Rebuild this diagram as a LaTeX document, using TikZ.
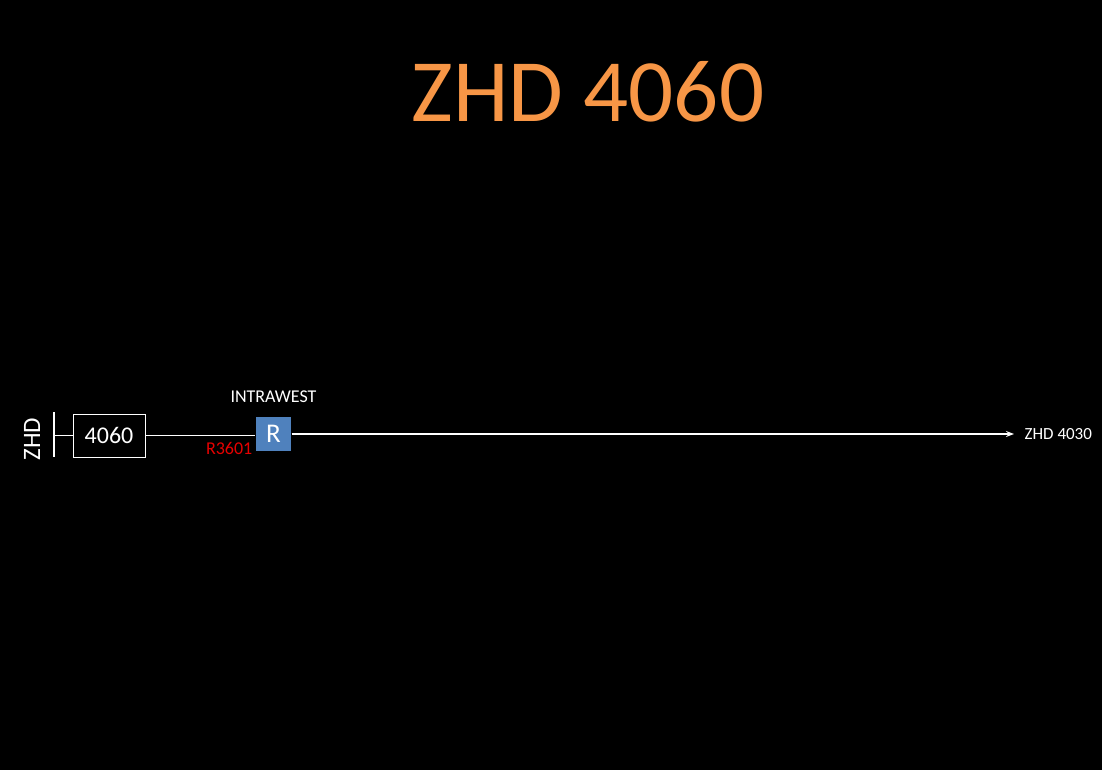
\documentclass[tikz,border=0pt]{standalone}
\usepackage{fontspec}
\setmainfont{Carlito}
\usetikzlibrary{arrows.meta,positioning}
\definecolor{titleorange}{RGB}{247,150,70}
\definecolor{relayblue}{RGB}{79,129,189}
\definecolor{tagred}{RGB}{230,0,0}

\begin{document}
\begin{tikzpicture}[x=1pt, y=-1pt, >={Stealth[length=8pt,width=6pt]}, line width=1.3pt,
    stationbox/.style={draw=white, line width=1pt, fill=black, text=white, inner sep=0pt, minimum width=72pt, minimum height=43pt, font=\fontsize{24}{24}\selectfont},
    relaybox/.style={fill=relayblue, text=white, inner sep=0pt, minimum width=35pt, minimum height=34pt, font=\fontsize{27}{27}\selectfont},
    smalllabel/.style={text=white, inner sep=0pt, font=\fontsize{17}{17}\selectfont}]
    \fill[black] (0,0) rectangle (1102,770);
    \useasboundingbox (0,0) rectangle (1102,770);
    \node[text=titleorange, font=\fontsize{89}{89}\selectfont] (title) at (588,92) {ZHD 4060};
    % bus end and station
    \coordinate (bustop) at (54,412);
    \coordinate (busbot) at (54,457);
    \draw[white] (bustop) -- (busbot);
    \node[text=white, rotate=90, inner sep=0pt, font=\fontsize{25}{25}\selectfont] (zhd) at (32,439) {ZHD};
    \node[stationbox] (stn) at (109,435.5) {4060};
    \draw[white] (stn.west) -- (stn.west -| bustop);
    % relay
    \node[relaybox] (relay) at (273.5,434) {R};
    \node[smalllabel, above=13pt of relay] (site) {\fontsize{18}{18}\selectfont INTRAWEST};
    \node[smalllabel, text=tagred, anchor=east] (tag) at (253,448) {\fontsize{18}{18}\selectfont R3601};
    \draw[white] (stn.east) -- (stn.east -| relay.west);
    % outgoing line
    \node[smalllabel, anchor=west] (far) at (1024,434) {ZHD 4030};
    \coordinate (farend) at (1014,434);
    \draw[white,->] (relay.east |- farend) -- (farend);
\end{tikzpicture}
\end{document}
